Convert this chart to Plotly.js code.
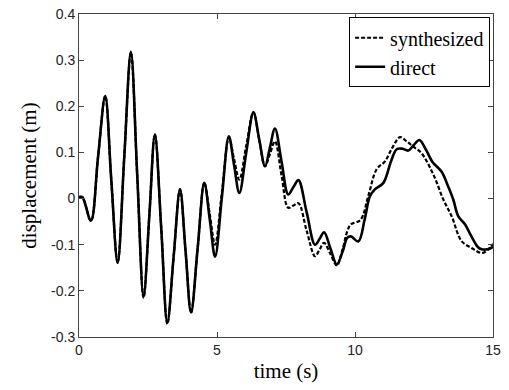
<!DOCTYPE html>
<html><head><meta charset="utf-8">
<script src="https://cdn.plot.ly/plotly-3.0.1.min.js"></script>
<style>html,body{margin:0;padding:0;background:#fff;}#chart{width:509px;height:390px;}</style>
</head><body><div id="chart"></div>
<script>
const tDirect = [0,0.12,0.43,0.69,0.95,1.17,1.40,1.64,1.88,2.11,2.34,2.55,2.75,2.98,3.20,3.43,3.66,3.86,4.06,4.30,4.54,4.74,4.93,5.18,5.43,5.62,5.81,6.06,6.32,6.53,6.74,6.92,7.10,7.34,7.58,7.77,7.95,8.25,8.55,8.72,8.88,9.11,9.34,9.55,9.72,9.85,10.12,10.35,10.54,10.72,11.03,11.30,11.51,11.72,11.93,12.13,12.33,12.58,12.80,13.14,13.35,13.56,13.74,13.99,14.20,14.45,14.59,14.80,15.0];
const dDirect = [0.003,0.003,-0.048,0.09,0.222,0.04,-0.139,0.09,0.318,0.05,-0.212,-0.035,0.139,-0.065,-0.269,-0.125,0.02,-0.113,-0.247,-0.107,0.034,-0.046,-0.126,0.005,0.135,0.072,0.012,0.10,0.187,0.128,0.07,0.111,0.152,0.08,0.009,0.025,0.04,-0.03,-0.10,-0.087,-0.073,-0.108,-0.143,-0.115,-0.085,-0.082,-0.093,-0.045,0.005,0.02,0.034,0.08,0.107,0.108,0.104,0.116,0.127,0.105,0.08,0.058,0.03,-0.002,-0.038,-0.056,-0.08,-0.105,-0.11,-0.11,-0.105];
const tSynth = [0,0.12,0.43,0.69,0.95,1.17,1.40,1.64,1.88,2.11,2.34,2.55,2.75,2.98,3.20,3.43,3.66,3.86,4.06,4.30,4.54,4.74,4.93,5.18,5.43,5.62,5.81,6.06,6.32,6.53,6.74,6.92,7.10,7.34,7.58,7.77,7.95,8.25,8.55,8.72,8.88,9.11,9.34,9.55,9.72,9.85,10.20,10.50,10.78,11.09,11.35,11.63,11.87,12.10,12.40,12.84,13.20,13.50,13.86,14.22,14.59,14.80,15.0];
const dSynth = [0.003,0.003,-0.048,0.09,0.222,0.04,-0.139,0.09,0.316,0.05,-0.215,-0.035,0.139,-0.065,-0.272,-0.125,0.02,-0.113,-0.247,-0.107,0.034,-0.035,-0.10,0.015,0.132,0.085,0.041,0.115,0.187,0.128,0.07,0.097,0.124,0.05,-0.02,-0.015,-0.01,-0.07,-0.125,-0.11,-0.096,-0.12,-0.145,-0.11,-0.071,-0.056,-0.046,0.01,0.063,0.081,0.11,0.133,0.124,0.113,0.099,0.052,-0.002,-0.038,-0.092,-0.107,-0.118,-0.112,-0.098];

const serif = "Liberation Serif";
const traces = [
  {x: tSynth, y: dSynth, name: 'synthesized', mode: 'lines',
   line: {color: '#000', width: 2.2, dash: '4px,2px', shape: 'spline', smoothing: 1}},
  {x: tDirect, y: dDirect, name: 'direct', mode: 'lines',
   line: {color: '#000', width: 2.6, shape: 'spline', smoothing: 1}}
];
const axisCommon = {showgrid: false, zeroline: false, showline: true, linecolor: '#444', linewidth: 1,
  mirror: 'ticks', ticks: 'inside', ticklen: 5, tickcolor: '#444',
  tickfont: {family: "Liberation Sans", size: 14, color: '#222'}};
const layout = {
  width: 509, height: 390,
  font: {family: serif, color: '#000'},
  margin: {l: 79, r: 16, t: 14, b: 53},
  paper_bgcolor: '#fff', plot_bgcolor: '#fff',
  showlegend: true,
  legend: {x: 0.993, y: 0.99, xanchor: 'right', yanchor: 'top', bgcolor: '#fff',
    bordercolor: '#000', borderwidth: 1, tracegroupgap: 0,
    font: {family: serif, size: 20, color: '#000', weight: 'normal'}},
  xaxis: Object.assign({}, axisCommon, {range: [0, 15], tickvals: [0, 5, 10, 15],
    title: {text: 'time (s)', standoff: 6, font: {family: serif, size: 21, color: '#000'}}}),
  yaxis: Object.assign({}, axisCommon, {range: [-0.3, 0.4],
    tickvals: [-0.3,-0.2,-0.1,0,0.1,0.2,0.3,0.4], ticktext: ['-0.3','-0.2','-0.1','0','0.1','0.2','0.3','0.4'],
    title: {text: 'displacement (m)', standoff: 8, font: {family: serif, size: 21, color: '#000'}}})
};
Plotly.newPlot('chart', traces, layout, {displayModeBar: false, staticPlot: true});
</script></body></html>
